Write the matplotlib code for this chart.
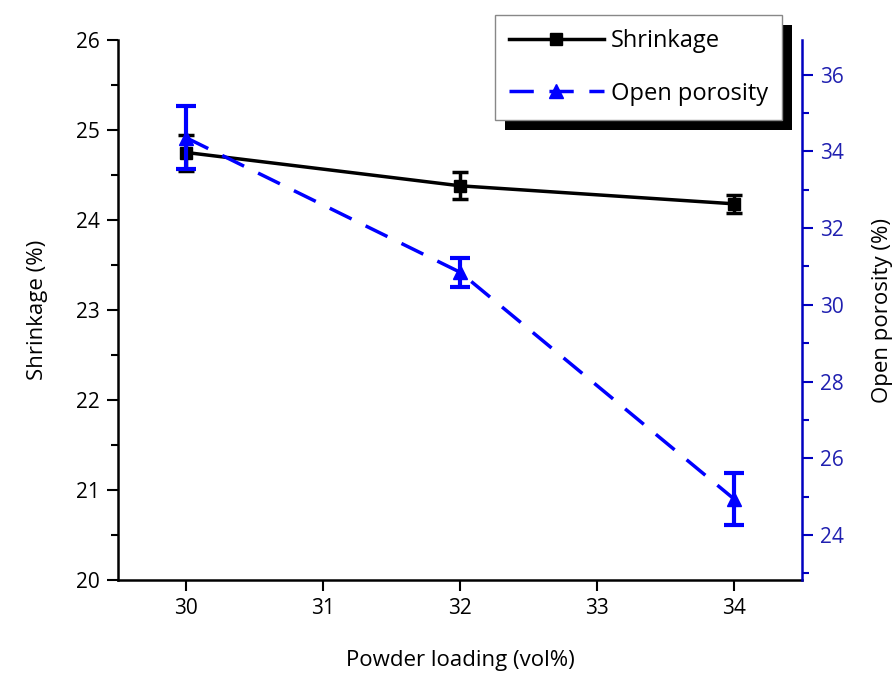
import matplotlib
matplotlib.use("Agg")
import matplotlib.pyplot as plt
from matplotlib.patches import Rectangle
from matplotlib.lines import Line2D
from matplotlib.ticker import MultipleLocator

plt.rcParams['font.family'] = ['Open Sans', 'DejaVu Sans']

loading = [30, 32, 34]
shrinkage = [24.75, 24.38, 24.18]
shrinkage_err = [0.2, 0.15, 0.1]
porosity = [34.35, 30.85, 24.95]
porosity_err = [0.82, 0.38, 0.68]

BLUE = '#0000ff'
AXBLUE = '#0000c0'
DASH = (0, (7, 4.5))

fig = plt.figure(figsize=(8.93, 6.75), dpi=100)
ax = fig.add_axes([118/893, 95/675, (802-118)/893, (580-40)/675])
ax2 = ax.twinx()

ax.errorbar(loading, shrinkage, yerr=shrinkage_err, color='black', lw=2.5,
            marker='s', ms=8, capsize=6, capthick=2.5, elinewidth=2.5, zorder=3)
ax2.errorbar(loading, porosity, yerr=porosity_err, color=BLUE, lw=2.5,
             ls=DASH, marker='^', ms=10, capsize=7, capthick=3,
             elinewidth=3, zorder=3)

ax.set_xlim(29.5, 34.5)
ax.set_ylim(20, 26)
ax2.set_ylim(22.83, 36.9)

ax.xaxis.set_major_locator(MultipleLocator(1))
ax.yaxis.set_major_locator(MultipleLocator(1))
ax.yaxis.set_minor_locator(MultipleLocator(0.5))
ax2.yaxis.set_major_locator(MultipleLocator(2))
ax2.yaxis.set_minor_locator(MultipleLocator(1))

for a in (ax, ax2):
    a.spines['top'].set_visible(False)
ax.spines['right'].set_visible(False)
ax.spines['left'].set_linewidth(1.8)
ax.spines['bottom'].set_linewidth(1.8)
ax2.spines['left'].set_visible(False)
ax2.spines['bottom'].set_visible(False)
ax2.spines['right'].set_color(AXBLUE)
ax2.spines['right'].set_linewidth(1.8)

ax.tick_params(axis='both', which='major', direction='out', length=8, width=1.5,
               labelsize=15, pad=5)
ax.tick_params(axis='y', which='minor', direction='out', length=5, width=1.5)
ax2.tick_params(axis='y', which='major', direction='out', length=8, width=1.5,
                colors=AXBLUE, labelsize=15, pad=5)
ax2.tick_params(axis='y', which='minor', direction='out', length=5, width=1.5,
                colors=AXBLUE)
for lbl in ax2.get_yticklabels():
    lbl.set_color('#2020b0')

ax.set_ylabel('Shrinkage (%)', fontsize=16, labelpad=20)
ax2.set_ylabel('Open porosity (%)', fontsize=16, labelpad=20)
ax.set_xlabel('Powder loading (vol%)', fontsize=16, labelpad=22)

handles = [
    Line2D([], [], color='black', lw=2.5, marker='s', ms=8),
    Line2D([], [], color=BLUE, lw=2.5, ls=DASH, marker='^', ms=10),
]
labels = ['Shrinkage', 'Open porosity']
leg = ax2.legend(handles, labels, loc='upper left',
                 bbox_to_anchor=(495/893, 1 - 15/675), bbox_transform=fig.transFigure,
                 fontsize=17, frameon=True, fancybox=False, edgecolor='#888888',
                 framealpha=1, handlelength=4.0, labelspacing=1.2,
                 borderpad=0.6, handletextpad=0.3, borderaxespad=0)
leg.get_frame().set_linewidth(1.0)

fig.canvas.draw()
bb = leg.get_window_extent()
W, H = fig.bbox.width, fig.bbox.height
off = 10
shadow = Rectangle(((bb.x0 + off) / W, (bb.y0 - off) / H), bb.width / W, bb.height / H,
                   transform=fig.transFigure, facecolor='black', edgecolor='none',
                   zorder=9)
fig.add_artist(shadow)
leg.remove()
fig.add_artist(leg)
leg.set_zorder(11)

fig.savefig('out.png', dpi=100)
